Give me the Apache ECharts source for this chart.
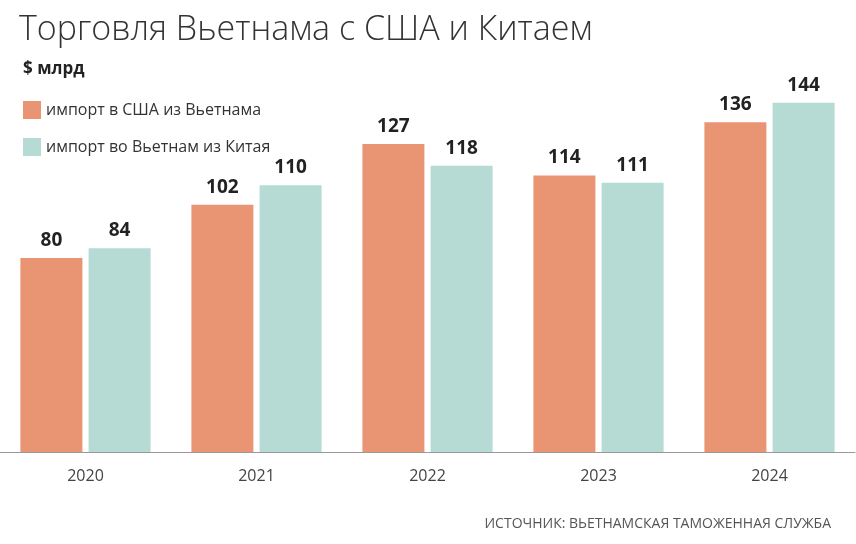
<!DOCTYPE html>
<html><head><meta charset="utf-8">
<script src="https://cdn.jsdelivr.net/npm/echarts@6/dist/echarts.min.js"></script>
<style>html,body{margin:0;padding:0;background:#fff}#c{width:856px;height:544px}</style>
</head><body><div id="c"></div>
<script>
const categories = ['2020','2021','2022','2023','2024'];
const usImports = [80,102,127,114,136];
const chinaImports = [84,110,118,111,144];
const seriesNames = ['импорт в США из Вьетнама','импорт во Вьетнам из Китая'];
const chart = echarts.init(document.getElementById('c'));
const font = '"Open Sans", "Noto Sans", sans-serif';
const lbl = {show:true, position:'top', distance:8, color:'#222', fontSize:19, fontWeight:'bold', fontFamily:font};
chart.setOption({
  animation:false,
  title:[
    {text:'Торговля Вьетнама с США и Китаем', left:14, top:8, textStyle:{fontSize:34, fontWeight:300, color:'#333', fontFamily:font}},
    {text:'$ млрд', left:18, top:56, textStyle:{fontSize:17, fontWeight:'bold', color:'#222', fontFamily:font}},
    {text:'ИСТОЧНИК: ВЬЕТНАМСКАЯ ТАМОЖЕННАЯ СЛУЖБА', right:20, top:512, textStyle:{fontSize:14, fontWeight:'normal', color:'#555', fontFamily:font}}
  ],
  legend:{orient:'vertical', left:18, top:96, itemWidth:18, itemHeight:18, itemGap:19, icon:'rect',
    textStyle:{fontSize:16, color:'#333', fontFamily:font}},
  grid:{left:0, right:1, top:15.5, bottom:92},
  xAxis:{type:'category', data:categories, axisTick:{show:false},
    axisLine:{lineStyle:{color:'#999', width:1}},
    axisLabel:{fontSize:16, color:'#444', margin:16, fontFamily:font}},
  yAxis:{type:'value', min:0, max:180, show:false, splitLine:{show:false}},
  series:[
    {name:seriesNames[0], type:'bar', data:usImports, barWidth:62, barGap:'10%', itemStyle:{color:'#E99473'}, label:lbl},
    {name:seriesNames[1], type:'bar', data:chinaImports, barWidth:62, itemStyle:{color:'#B5DBD4'}, label:lbl}
  ]
});
</script></body></html>
